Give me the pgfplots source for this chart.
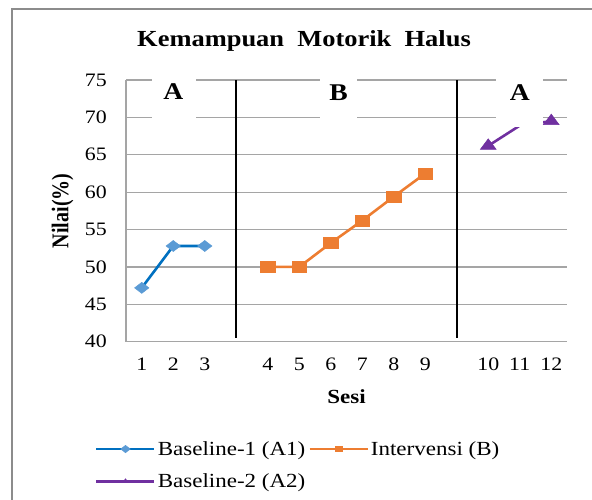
\documentclass[border=0pt]{standalone}
\usepackage{fontspec}
\setmainfont{Liberation Serif}[FakeStretch=1.15]
\newfontfamily\plainserif{Liberation Serif}
\usepackage{graphicx}
\usepackage{pgfplots}
\pgfplotsset{compat=1.18}
\definecolor{cA}{RGB}{0,112,192}
\definecolor{cAm}{RGB}{91,155,213}
\definecolor{cB}{RGB}{237,125,49}
\definecolor{cC}{RGB}{112,48,160}
\definecolor{gridc}{RGB}{165,165,165}
\definecolor{framec}{RGB}{140,140,140}
\begin{document}
\begin{tikzpicture}
\useasboundingbox (0pt,0pt) rectangle (592pt,-500pt);
\clip (0pt,0pt) rectangle (592pt,-500pt);
\draw[framec, line width=1.2pt] (12pt,-510pt) -- (12pt,-9pt) -- (600pt,-9pt);
\node[font=\fontsize{23}{27}\selectfont\rmfamily\bfseries, anchor=base] at (304pt,-46.5pt) {Kemampuan\ \ Motorik\ \ Halus};
\begin{axis}[
  at={(126pt,-341.7pt)}, anchor=south west,
  scale only axis, width=441pt, height=261.7pt,
  xmin=0.5, xmax=14.5, ymin=40, ymax=75,
  clip=false,
  axis x line*=bottom, axis y line*=left,
  axis line style={gridc, line width=1.3pt},
  ymajorgrids, grid style={gridc, line width=1.3pt},
  major tick length=0pt,
  ytick={40,45,...,75},
  xtick={1,2,3,5,6,7,8,9,10,12,13,14},
  xticklabels={1,2,3,4,5,6,7,8,9,10,11,12},
  tick label style={font=\fontsize{19}{22}\selectfont\rmfamily},
  /pgf/number format/assume math mode=true,
  yticklabel style={anchor=east, inner sep=0pt, xshift=-19pt},
  xticklabel style={anchor=north, inner sep=0pt, yshift=-16pt},
  xlabel={\bfseries Sesi},
  xlabel style={at={(axis description cs:0.5,-0.211)}, anchor=center, font=\fontsize{20}{24}\selectfont\rmfamily},
  ylabel={\scalebox{1}[1.2]{\plainserif\bfseries Nilai(\%)}},
  ylabel style={at={(axis description cs:-0.144,0.5)}, anchor=center, font=\fontsize{20}{24}\selectfont},
  legend columns=2,
  legend cell align=left,
  legend style={at={(axis description cs:-0.0703,-0.38)}, anchor=north west, draw=none, fill=none,
    inner sep=0pt, font=\fontsize{20}{24}\selectfont\rmfamily, row sep=17pt,
    nodes={inner sep=0pt, font=\fontsize{20}{24}\selectfont\rmfamily},
    /tikz/every odd column/.append style={column sep=2pt},
    /tikz/every even column/.append style={column sep=3pt}},
  legend image code/.code={\draw[#1, mark indices={2}, mark size=2.6pt] plot coordinates {(0pt,0pt) (29pt,0pt) (58pt,0pt)};},
]
\addplot[black, line width=1.8pt, forget plot] coordinates {(4,40.5) (4,75)};
\addplot[black, line width=1.8pt, forget plot] coordinates {(11,40.5) (11,75)};
\addplot[cA, line width=2.6pt, mark=square*, mark size=3.9pt,
  mark options={xscale=1.3, rotate=45, fill=cAm, draw=cAm, line width=0.5pt}]
  coordinates {(1,47.2) (2,52.8) (3,52.8)};
\addlegendentry{Baseline-1 (A1)}
\addplot[cB, line width=2.6pt, mark=square*, mark size=5.5pt,
  mark options={xscale=1.3, fill=cB, draw=cB, line width=0.5pt}]
  coordinates {(5,50) (6,50) (7,53.2) (8,56.2) (9,59.4) (10,62.5)};
\addlegendentry{Intervensi (B)}
\addplot[cC, line width=2.6pt, mark=triangle*, mark size=7pt, mark indices={1,3},
  mark options={xscale=1.3, fill=cC, draw=cC, line width=0.5pt}]
  coordinates {(12,66.2) (13,68.9) (14,69.5)};
\addlegendentry{Baseline-2 (A2)}
\fill[white] (axis cs:1.33,75.45) rectangle (axis cs:2.73,68.75);
\fill[white] (axis cs:6.66,75.45) rectangle (axis cs:7.83,68.75);
\fill[white] (axis cs:12.25,75.45) rectangle (axis cs:13.74,68.75);
\node[font=\fontsize{24}{28}\selectfont\rmfamily\bfseries] at (axis cs:2,73.4) {A};
\node[font=\fontsize{24}{28}\selectfont\rmfamily\bfseries] at (axis cs:7.25,73.3) {B};
\node[font=\fontsize{24}{28}\selectfont\rmfamily\bfseries] at (axis cs:13,73.3) {A};
\end{axis}
\end{tikzpicture}
\end{document}
